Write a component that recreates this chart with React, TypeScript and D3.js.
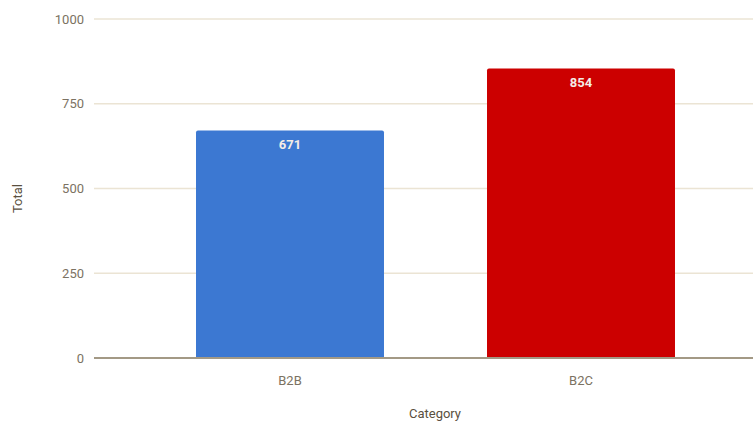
import React from "react";
import * as d3 from "d3";

const categories = ["B2B", "B2C"];
const totals = [671, 854];
const barColors = ["#3c78d2", "#cc0000"];
const yTicks = [0, 250, 500, 750, 1000];

const W = 753;
const H = 426;
const plotLeft = 94;
const plotRight = 753;
const yTop = 19;
const yBottom = 358;

export default function App() {
  const x = d3
    .scaleBand<string>()
    .domain(categories)
    .range([144.5, 726.5])
    .paddingInner(0.354)
    .paddingOuter(0.177);
  const y = d3.scaleLinear().domain([0, 1000]).range([yBottom, yTop]);

  const tickColor = "#7b7262";
  const font = "Roboto, 'Noto Sans', sans-serif";

  return (
    <svg
      width={W}
      height={H}
      style={{ position: "absolute", left: 0, top: 0, background: "#fff" }}
      fontFamily={font}
    >
      {yTicks.map((t) => (
        <g key={t}>
          {t !== 0 && (
            <line
              x1={plotLeft}
              x2={plotRight}
              y1={y(t)}
              y2={y(t)}
              stroke="#ebe4d4"
              strokeWidth={1.5}
            />
          )}
          <text
            x={plotLeft - 10}
            y={y(t)}
            dy="0.35em"
            textAnchor="end"
            fontSize={13}
            fill={tickColor}
          >
            {t}
          </text>
        </g>
      ))}

      {categories.map((c, i) => {
        const x0 = x(c)!;
        const bw = x.bandwidth();
        const top = y(totals[i]);
        return (
          <g key={c}>
            <path
              d={`M${x0},${yBottom} V${top + 2} Q${x0},${top} ${x0 + 2},${top} H${
                x0 + bw - 2
              } Q${x0 + bw},${top} ${x0 + bw},${top + 2} V${yBottom} Z`}
              fill={barColors[i]}
            />
            <text
              x={x0 + bw / 2}
              y={top + 14}
              dy="0.35em"
              textAnchor="middle"
              fontSize={13}
              fontWeight="bold"
              fill="#f4ece6"
            >
              {totals[i]}
            </text>
            <text
              x={x0 + bw / 2}
              y={yBottom + 22}
              dy="0.35em"
              textAnchor="middle"
              fontSize={13}
              fill={tickColor}
            >
              {c}
            </text>
          </g>
        );
      })}

      <line
        x1={plotLeft}
        x2={plotRight}
        y1={yBottom}
        y2={yBottom}
        stroke="#a39985"
        strokeWidth={2}
      />

      <text
        transform={`translate(17,${(yTop + yBottom) / 2 + 10}) rotate(-90)`}
        textAnchor="middle"
        dy="0.35em"
        fontSize={13}
        fill="#5a5040"
      >
        Total
      </text>
      <text
        x={435}
        y={413}
        dy="0.35em"
        textAnchor="middle"
        fontSize={13}
        fill="#5a5040"
      >
        Category
      </text>
    </svg>
  );
}
